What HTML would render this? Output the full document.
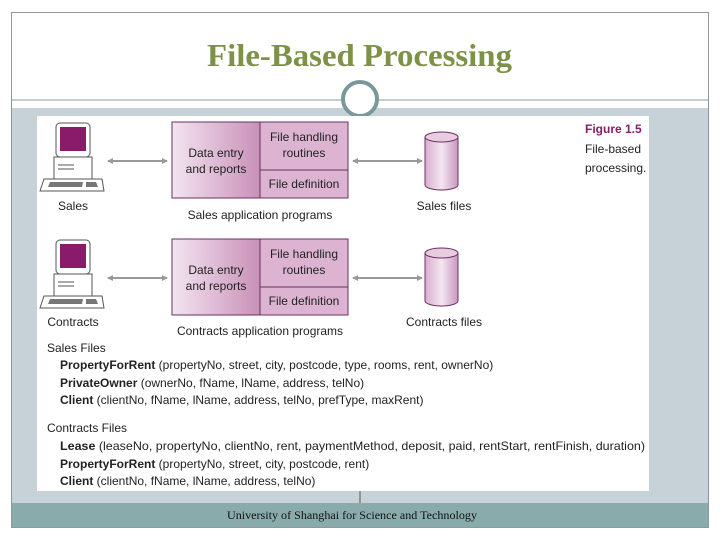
<!DOCTYPE html>
<html><head><meta charset="utf-8"><style>
body{margin:0;width:720px;height:540px;background:#fff;overflow:hidden}
svg{display:block}
text{font-family:"Liberation Sans",sans-serif;font-size:12px;fill:#222}
</style></head><body>
<svg width="720" height="540" viewBox="0 0 720 540">
<defs>
<linearGradient id="pg" x1="0" x2="1" y1="0" y2="0"><stop offset="0" stop-color="#f3e4ef"/><stop offset="1" stop-color="#c890b8"/></linearGradient>
<linearGradient id="cg" x1="0" x2="1"><stop offset="0" stop-color="#d8aed0"/><stop offset="0.5" stop-color="#f4e6f0"/><stop offset="1" stop-color="#c898be"/></linearGradient>
<marker id="ah" markerWidth="6" markerHeight="6" refX="5" refY="3" orient="auto-start-reverse" markerUnits="userSpaceOnUse"><path d="M0,0 L6,3 L0,6z" fill="#999"/></marker>
<g id="pc">
<rect x="18" y="0" width="34" height="34" rx="4" fill="#fff" stroke="#555"/>
<rect x="22" y="4" width="26" height="24" fill="#8a1a6a"/>
<rect x="16" y="34" width="38" height="22" fill="#fff" stroke="#555"/>
<line x1="20" y1="42" x2="36" y2="42" stroke="#555"/><line x1="20" y1="46" x2="36" y2="46" stroke="#555"/>
<path d="M6,56 L64,56 L66,68 L2,68z" fill="#fff" stroke="#555"/>
<path d="M12,59 L45,59 L44,64 L10,64z" fill="#777"/><path d="M48,59 L58,59 L60,64 L48,64z" fill="#777"/>
</g>
<g id="box">
<rect x="0" y="0" width="176" height="76" fill="#fff" stroke="#6a3060"/>
<rect x="0.5" y="0.5" width="88" height="75" fill="url(#pg)"/>
<rect x="88.5" y="0.5" width="87" height="75" fill="#dcb4d2"/>
<line x1="88" y1="0" x2="88" y2="76" stroke="#6a3060"/>
<line x1="88" y1="48" x2="176" y2="48" stroke="#6a3060"/>
<rect x="0" y="0" width="176" height="76" fill="none" stroke="#6a3060"/>
<text x="44" y="35" text-anchor="middle">Data entry</text>
<text x="44" y="51" text-anchor="middle">and reports</text>
<text x="132" y="19" text-anchor="middle">File handling</text>
<text x="132" y="35" text-anchor="middle">routines</text>
<text x="132" y="66" text-anchor="middle">File definition</text>
</g>
<g id="cyl">
<path d="M0,6 L0,54 A16.5,5 0 0 0 33,54 L33,6" fill="url(#cg)" stroke="#6a3060"/>
<ellipse cx="16.5" cy="6" rx="16.5" ry="5" fill="#e8cce0" stroke="#6a3060"/>
</g>
</defs>
<rect x="11.5" y="12.5" width="697" height="515" fill="#fff" stroke="#8a9a9a"/>
<rect x="12" y="108" width="696" height="395" fill="#c6d2d8"/>
<rect x="12" y="503" width="696" height="24" fill="#8aabab"/>
<line x1="12" y1="100" x2="708" y2="100" stroke="#8a9a9a"/>
<text x="207" y="66" textLength="305" lengthAdjust="spacingAndGlyphs" style="font-family:'Liberation Serif',serif;font-size:32px;font-weight:bold;fill:#7d9147">File-Based Processing</text>
<circle cx="360" cy="99" r="17" fill="#fff" stroke="#7a9898" stroke-width="4"/>
<rect x="37" y="116" width="612" height="375" fill="#fff"/>
<line x1="360" y1="491" x2="360" y2="503" stroke="#555"/>
<text x="227" y="519" textLength="250" lengthAdjust="spacingAndGlyphs" style="font-family:'Liberation Serif',serif;font-size:12px;fill:#111">University of Shanghai for Science and Technology</text>

<use href="#pc" x="38" y="123"/><use href="#pc" x="38" y="240"/>
<text x="73" y="210" text-anchor="middle">Sales</text>
<text x="73" y="326" text-anchor="middle">Contracts</text>
<line x1="108" y1="161" x2="167" y2="161" stroke="#999" stroke-width="2" marker-start="url(#ah)" marker-end="url(#ah)"/>
<line x1="108" y1="278" x2="167" y2="278" stroke="#999" stroke-width="2" marker-start="url(#ah)" marker-end="url(#ah)"/>
<use href="#box" x="172" y="122"/><use href="#box" x="172" y="239"/>
<text x="260" y="219" text-anchor="middle">Sales application programs</text>
<text x="260" y="335" text-anchor="middle">Contracts application programs</text>
<line x1="353" y1="161" x2="422" y2="161" stroke="#999" stroke-width="2" marker-start="url(#ah)" marker-end="url(#ah)"/>
<line x1="353" y1="278" x2="422" y2="278" stroke="#999" stroke-width="2" marker-start="url(#ah)" marker-end="url(#ah)"/>
<use href="#cyl" x="425" y="131"/><use href="#cyl" x="425" y="247"/>
<text x="444" y="210" text-anchor="middle">Sales files</text>
<text x="444" y="326" text-anchor="middle">Contracts files</text>
<text x="585" y="133" style="font-weight:bold;fill:#8a1a6a">Figure 1.5</text>
<text x="585" y="153">File-based</text>
<text x="585" y="172">processing.</text>

<g style="font-size:12px">
<text x="47" y="352">Sales Files</text>
<text x="60" y="369"><tspan font-weight="bold">PropertyForRent</tspan> (propertyNo, street, city, postcode, type, rooms, rent, ownerNo)</text>
<text x="60" y="387"><tspan font-weight="bold">PrivateOwner</tspan> (ownerNo, fName, lName, address, telNo)</text>
<text x="60" y="404"><tspan font-weight="bold">Client</tspan> (clientNo, fName, lName, address, telNo, prefType, maxRent)</text>
<text x="47" y="432">Contracts Files</text>
<text x="60" y="450" textLength="585" lengthAdjust="spacingAndGlyphs"><tspan font-weight="bold">Lease</tspan> (leaseNo, propertyNo, clientNo, rent, paymentMethod, deposit, paid, rentStart, rentFinish, duration)</text>
<text x="60" y="468"><tspan font-weight="bold">PropertyForRent</tspan> (propertyNo, street, city, postcode, rent)</text>
<text x="60" y="485"><tspan font-weight="bold">Client</tspan> (clientNo, fName, lName, address, telNo)</text>
</g>
</svg>
</body></html>
